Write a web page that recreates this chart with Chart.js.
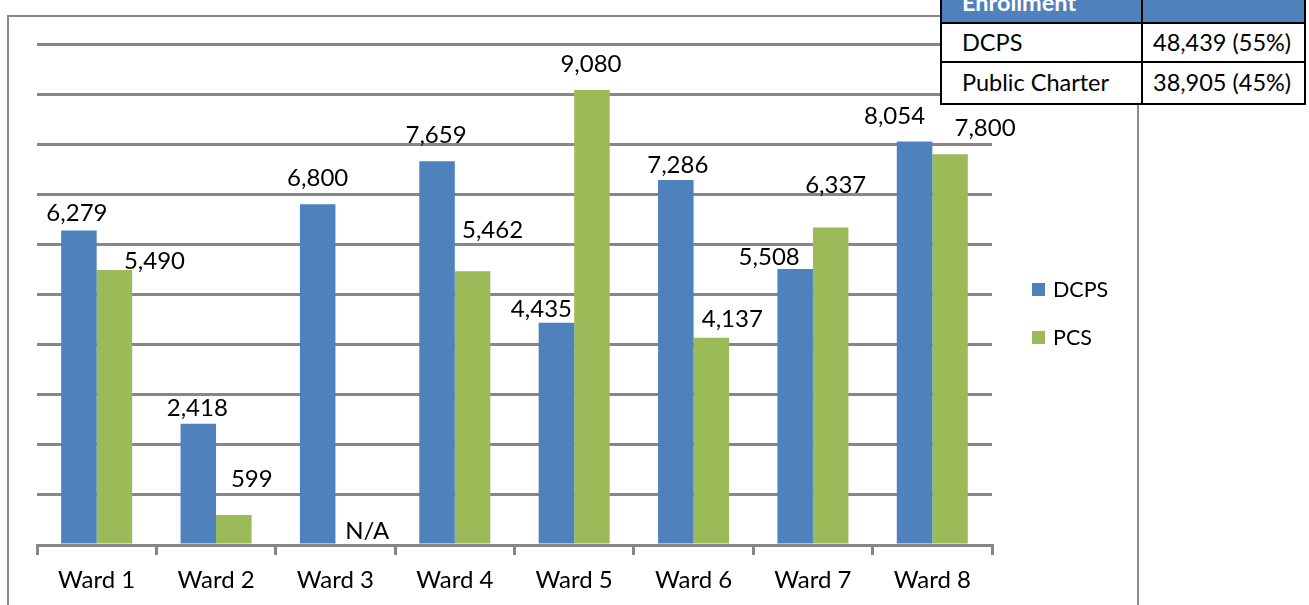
<!DOCTYPE html>
<html>
<head>
<meta charset="utf-8">
<script src="https://cdn.jsdelivr.net/npm/chart.js@4/dist/chart.umd.min.js"></script>
<style>
  html, body { margin: 0; padding: 0; background: #fff; overflow: hidden; }
  body { width: 1309px; height: 605px; position: relative; font-family: Lato, sans-serif; }
  #frame {
    position: absolute; left: 7px; top: 15px; width: 1128px; height: 700px;
    border: 2px solid #8a8a8a;
  }
  #wrap { position: absolute; left: 0; top: 0; width: 1309px; height: 605px; }
  #enroll {
    position: absolute; left: 940px; top: -19px; width: 364px;
    border-collapse: collapse; table-layout: fixed; background: #fff;
    font-family: Lato, sans-serif; font-size: 23.5px; color: #000;
  }
  #enroll td { border: 2px solid #000; height: 39px; padding: 0; white-space: nowrap; box-sizing: border-box; line-height: 1; }
  #enroll tr.last td { height: 42px; }
  #enroll td.c1 { width: 201px; padding-left: 20px; }
  #enroll td.c2 { width: 163px; padding-left: 10px; }
  #enroll tr.head td { background: #4f81bd; color: #fff; font-weight: bold; vertical-align: bottom; padding-bottom: 8px; height: 41px; }
</style>
</head>
<body>
<div id="frame"></div>
<div id="wrap"><canvas id="myChart"></canvas></div>
<table id="enroll">
  <tr class="head"><td class="c1">Enrollment</td><td class="c2"></td></tr>
  <tr><td class="c1">DCPS</td><td class="c2">48,439 (55%)</td></tr>
  <tr class="last"><td class="c1">Public Charter</td><td class="c2">38,905 (45%)</td></tr>
</table>
<script>
const wards = ['Ward 1', 'Ward 2', 'Ward 3', 'Ward 4', 'Ward 5', 'Ward 6', 'Ward 7', 'Ward 8'];
const dcps = [6279, 2418, 6800, 7659, 4435, 7286, 5508, 8054];
const pcs = [5490, 599, null, 5462, 9080, 4137, 6337, 7800];
const seriesNames = ['DCPS', 'PCS'];

// label nudges (px) as placed by hand in the original
const dcpsLabelDx = [-2, -1, 0, -1, -15, 2, -26, -20];
const dcpsLabelGap = [9, 8, 18, 18, 6, 7, 4, 17];
const pcsLabelDx = [40, 18, 14, 20, -1, 21, 5, 35];
const pcsLabelGap = [1, 28, 6, 33, 18, 11, 35, 18];

const gridGray = '#878787';
const labelFont = '24px Lato';

const valueLabels = {
    id: 'valueLabels',
    afterDatasetsDraw(chart) {
        const ctx = chart.ctx;
        const y0 = chart.scales.y.getPixelForValue(0);
        const dxs = [dcpsLabelDx, pcsLabelDx];
        const gaps = [dcpsLabelGap, pcsLabelGap];
        ctx.save();
        ctx.font = labelFont;
        ctx.fillStyle = '#000';
        ctx.textAlign = 'center';
        ctx.textBaseline = 'alphabetic';
        chart.data.datasets.forEach((ds, i) => {
            const meta = chart.getDatasetMeta(i);
            meta.data.forEach((bar, j) => {
                const v = ds.data[j];
                let x = bar.x;
                if (isNaN(x)) {
                    const other = chart.getDatasetMeta(0).data[j];
                    x = other.x + other.width;
                }
                const top = (v == null) ? y0 : bar.y;
                const text = (v == null) ? 'N/A' : v.toLocaleString('en-US');
                ctx.fillText(text, x + dxs[i][j], top - gaps[i][j]);
            });
        });
        ctx.restore();
    }
};

const sideLegend = {
    id: 'sideLegend',
    afterDraw(chart) {
        const ctx = chart.ctx;
        ctx.save();
        ctx.font = '21.5px Lato';
        ctx.textBaseline = 'middle';
        ctx.textAlign = 'left';
        chart.data.datasets.forEach((ds, i) => {
            const y = 289 + i * 48;
            ctx.fillStyle = ds.backgroundColor;
            ctx.fillRect(1032, y - 6, 13, 13);
            ctx.fillStyle = '#000';
            ctx.fillText(ds.label, 1053, y + 1);
        });
        ctx.restore();
    }
};

const data = {
    labels: wards,
    datasets: [{
        label: seriesNames[0],
        data: dcps,
        backgroundColor: '#4f81bd',
        categoryPercentage: 0.595,
        barPercentage: 1
    }, {
        label: seriesNames[1],
        data: pcs,
        backgroundColor: '#9bbb59',
        categoryPercentage: 0.595,
        barPercentage: 1
    }]
};

const config = {
    type: 'bar',
    data: data,
    options: {
        responsive: true,
        maintainAspectRatio: false,
        animation: false,
        layout: { padding: { left: 37, right: 317, top: 44, bottom: 0 } },
        plugins: {
            legend: { display: false },
            tooltip: { enabled: false },
            title: { display: false }
        },
        scales: {
            x: {
                afterFit: (scale) => { scale.height = 60; },
                grid: {
                    offset: true,
                    drawOnChartArea: false,
                    drawTicks: true,
                    tickLength: 10,
                    color: gridGray,
                    lineWidth: 3
                },
                border: { display: true, color: gridGray, width: 3 },
                ticks: {
                    font: { family: 'Lato', size: 24 },
                    color: '#000',
                    padding: 11
                }
            },
            y: {
                min: 0,
                max: 10000,
                afterFit: (scale) => { scale.width = 0; },
                ticks: { stepSize: 1000, display: false },
                grid: { color: gridGray, lineWidth: 3, drawTicks: false },
                border: { display: false }
            }
        }
    },
    plugins: [valueLabels, sideLegend]
};

var myChart = new Chart(document.getElementById('myChart'), config);
</script>
</body>
</html>
